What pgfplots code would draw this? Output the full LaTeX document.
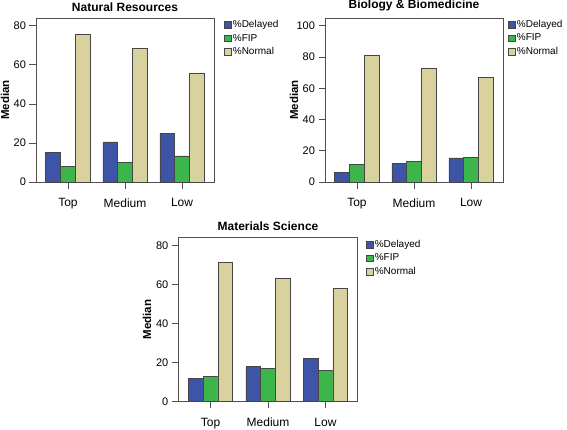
\documentclass[border=0pt]{standalone}
\usepackage{pgfplots}
\pgfplotsset{compat=1.18}
\usepackage{fontspec}
\setmainfont{Liberation Sans}
\definecolor{cblue}{RGB}{62,84,166}
\definecolor{cgreen}{RGB}{60,181,74}
\definecolor{ckhaki}{RGB}{217,209,158}
\definecolor{cedge}{RGB}{70,70,70}
\definecolor{caxis}{RGB}{80,80,80}
\pgfplotsset{
  sqleg/.style={legend image code/.code={\draw[##1,line width=0.6pt] (0pt,-3.3pt) rectangle (6.6pt,3.3pt);}},
  panel/.style={
    scale only axis,
    anchor=south west,
    width=178pt, height=164pt,
    ybar=0pt, bar width=14.8pt,
    xmin=-0.56, xmax=2.56, ymin=0,
    xtick={0,1,2}, xticklabels={Top,Medium,Low},
    tick align=outside, tick pos=left,
    major tick length=6.5pt,
    axis line style={caxis, line width=0.7pt},
    every tick/.style={caxis, line width=0.8pt},
    /pgf/number format/assume math mode=true,
    xticklabel style={font=\fontsize{12}{14}\selectfont, yshift=-6.5pt},
    yticklabel style={font=\fontsize{11}{13}\selectfont},
    ylabel={Median},
    ylabel style={font=\bfseries\fontsize{11.5}{13}\selectfont, at={(axis description cs:-0.174,0.5)}, anchor=center},
    title style={font=\bfseries\fontsize{12}{14}\selectfont, at={(axis description cs:0.5,1)}, anchor=base, yshift=1pt},
    legend cell align=left,
    legend style={draw=none, fill=none, inner sep=0pt, anchor=north west,
      font=\fontsize{10}{12}\selectfont,
      nodes={text height=7.3pt, text depth=2.2pt, inner ysep=2pt, inner xsep=1.5pt}},
    every axis plot/.append style={draw=cedge, line width=0.6pt},
  },
}
\begin{document}
\begin{tikzpicture}
\path[use as bounding box] (0pt,0pt) rectangle (567pt,429pt);
% Natural Resources
\begin{axis}[panel, at={(36pt,247pt)}, ymax=84, ytick={0,20,40,60,80},
  title={Natural Resources}, legend style={at={(axis description cs:1.056,1.0)}}]
\addplot[fill=cblue, sqleg] coordinates {(0,15.1) (1,20.5) (2,24.8)};
\addplot[fill=cgreen, sqleg] coordinates {(0,7.9) (1,10.1) (2,13.4)};
\addplot[fill=ckhaki, sqleg] coordinates {(0,75.5) (1,68.3) (2,55.9)};
\legend{\%Delayed,\%FIP,\%Normal}
\end{axis}
% Biology & Biomedicine
\begin{axis}[panel, at={(325pt,247pt)}, ymax=105, ytick={0,20,40,60,80,100},
  title={Biology \& Biomedicine}, title style={yshift=2pt}, legend style={at={(axis description cs:1.028,1.0)}}]
\addplot[fill=cblue, sqleg] coordinates {(0,6.1) (1,11.9) (2,15.4)};
\addplot[fill=cgreen, sqleg] coordinates {(0,11.1) (1,13.2) (2,15.5)};
\addplot[fill=ckhaki, sqleg] coordinates {(0,81.0) (1,72.9) (2,67.2)};
\legend{\%Delayed,\%FIP,\%Normal}
\end{axis}
% Materials Science
\begin{axis}[panel, at={(178.3pt,27.3pt)}, width=179.4pt, ymax=84, ytick={0,20,40,60,80},
  title={Materials Science}, legend style={at={(axis description cs:1.046,1.0)}}]
\addplot[fill=cblue, sqleg] coordinates {(0,12.1) (1,17.9) (2,22.3)};
\addplot[fill=cgreen, sqleg] coordinates {(0,13.1) (1,17.2) (2,16.0)};
\addplot[fill=ckhaki, sqleg] coordinates {(0,71.5) (1,63.0) (2,58.2)};
\legend{\%Delayed,\%FIP,\%Normal}
\end{axis}
\end{tikzpicture}
\end{document}
